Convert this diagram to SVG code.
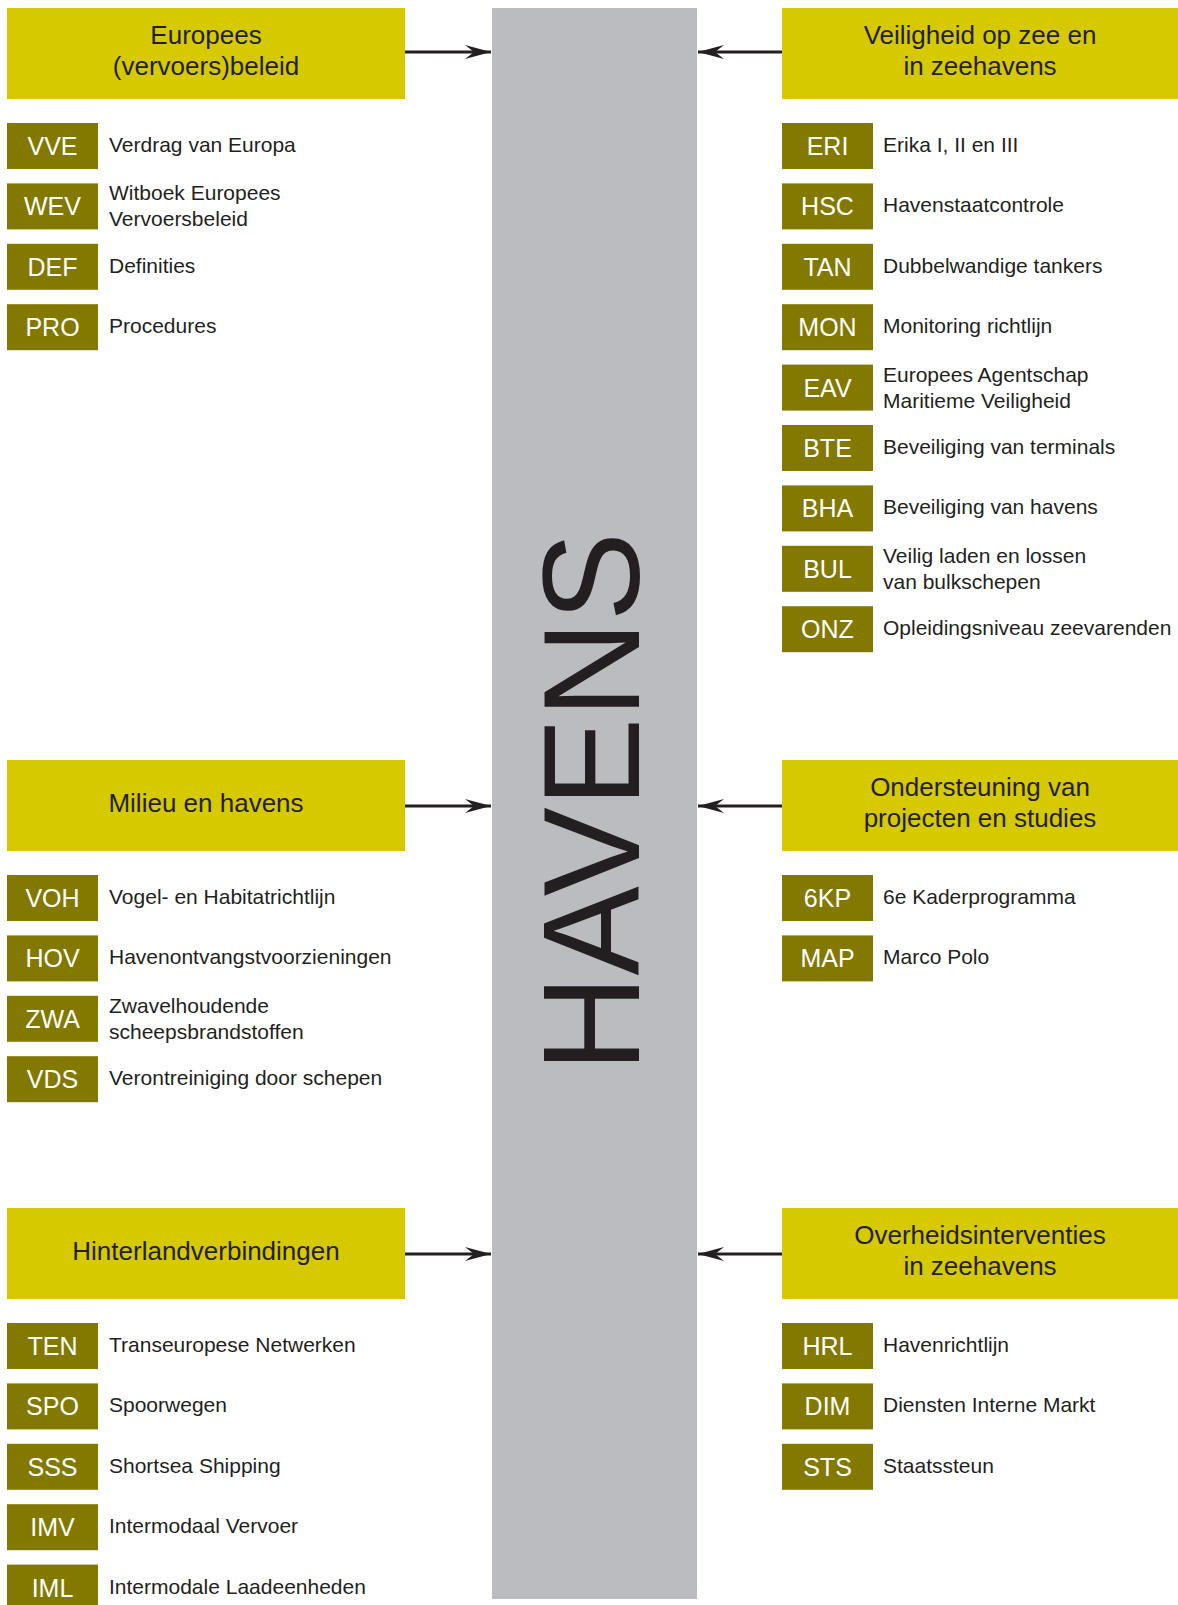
<svg xmlns="http://www.w3.org/2000/svg" width="1178" height="1605" viewBox="0 0 1178 1605">
<defs>
<style>
.hdr{fill:#d6c900}
.code{fill:#837900}
.ht{font-family:"Liberation Sans",Arial,sans-serif;font-size:26px;fill:#231f20;text-anchor:middle}
.ct{font-family:"Liberation Sans",Arial,sans-serif;font-size:25px;fill:#ffffff;text-anchor:middle}
.lt{font-family:"Liberation Sans",Arial,sans-serif;font-size:21px;fill:#231f20}
.conn{stroke:#231f20;stroke-width:2.8;fill:none}
</style>
<marker id="arr" markerUnits="userSpaceOnUse" markerWidth="27" markerHeight="15" refX="26" refY="7" orient="auto">
<path d="M0,0 L26,7 L0,14 L9,7 z" fill="#231f20"/>
</marker>
</defs>
<rect width="1178" height="1605" fill="#ffffff"/>
<g id="havens">
<rect x="492" y="8" width="205" height="1591" fill="#bbbcc0"/>
<text transform="translate(639,802) rotate(-90)" font-family="'Liberation Sans',Arial,sans-serif" font-size="138" fill="#231f20" text-anchor="middle" textLength="540" lengthAdjust="spacingAndGlyphs">HAVENS</text>
</g>
<g id="connectors">
<line class="conn" x1="405" y1="52" x2="491" y2="52" marker-end="url(#arr)"/>
<line class="conn" x1="782" y1="52" x2="698" y2="52" marker-end="url(#arr)"/>
<line class="conn" x1="405" y1="806" x2="491" y2="806" marker-end="url(#arr)"/>
<line class="conn" x1="782" y1="806" x2="698" y2="806" marker-end="url(#arr)"/>
<line class="conn" x1="405" y1="1254" x2="491" y2="1254" marker-end="url(#arr)"/>
<line class="conn" x1="782" y1="1254" x2="698" y2="1254" marker-end="url(#arr)"/>
</g>
<g id="hdr-europees">
<rect class="hdr" x="7" y="8" width="398" height="91"/>
<text class="ht" x="206" y="44">Europees</text>
<text class="ht" x="206" y="75">(vervoers)beleid</text>
</g>
<g id="hdr-veiligheid">
<rect class="hdr" x="782" y="8" width="396" height="91"/>
<text class="ht" x="980" y="44">Veiligheid op zee en</text>
<text class="ht" x="980" y="75">in zeehavens</text>
</g>
<g id="hdr-milieu">
<rect class="hdr" x="7" y="760" width="398" height="91"/>
<text class="ht" x="206" y="812">Milieu en havens</text>
</g>
<g id="hdr-ondersteuning">
<rect class="hdr" x="782" y="760" width="396" height="91"/>
<text class="ht" x="980" y="796">Ondersteuning van</text>
<text class="ht" x="980" y="827">projecten en studies</text>
</g>
<g id="hdr-hinterland">
<rect class="hdr" x="7" y="1208" width="398" height="91"/>
<text class="ht" x="206" y="1260">Hinterlandverbindingen</text>
</g>
<g id="hdr-overheid">
<rect class="hdr" x="782" y="1208" width="396" height="91"/>
<text class="ht" x="980" y="1244">Overheidsinterventies</text>
<text class="ht" x="980" y="1275">in zeehavens</text>
</g>

<g id="n-VVE"><rect class="code" x="7" y="123" width="91" height="46"/><text class="ct" x="52.5" y="155">VVE</text><text class="lt" x="109" y="152">Verdrag van Europa</text></g>
<g id="n-WEV"><rect class="code" x="7" y="183.4" width="91" height="46"/><text class="ct" x="52.5" y="215.4">WEV</text><text class="lt" x="109" y="200">Witboek Europees</text><text class="lt" x="109" y="226">Vervoersbeleid</text></g>
<g id="n-DEF"><rect class="code" x="7" y="243.8" width="91" height="46"/><text class="ct" x="52.5" y="275.8">DEF</text><text class="lt" x="109" y="272.8">Definities</text></g>
<g id="n-PRO"><rect class="code" x="7" y="304.2" width="91" height="46"/><text class="ct" x="52.5" y="336.2">PRO</text><text class="lt" x="109" y="333.2">Procedures</text></g>

<g id="n-ERI"><rect class="code" x="782" y="123" width="91" height="46"/><text class="ct" x="827.5" y="155">ERI</text><text class="lt" x="883" y="152">Erika I, II en III</text></g>
<g id="n-HSC"><rect class="code" x="782" y="183.4" width="91" height="46"/><text class="ct" x="827.5" y="215.4">HSC</text><text class="lt" x="883" y="212.4">Havenstaatcontrole</text></g>
<g id="n-TAN"><rect class="code" x="782" y="243.8" width="91" height="46"/><text class="ct" x="827.5" y="275.8">TAN</text><text class="lt" x="883" y="272.8">Dubbelwandige tankers</text></g>
<g id="n-MON"><rect class="code" x="782" y="304.2" width="91" height="46"/><text class="ct" x="827.5" y="336.2">MON</text><text class="lt" x="883" y="333.2">Monitoring richtlijn</text></g>
<g id="n-EAV"><rect class="code" x="782" y="364.6" width="91" height="46"/><text class="ct" x="827.5" y="396.6">EAV</text><text class="lt" x="883" y="381.6">Europees Agentschap</text><text class="lt" x="883" y="407.6">Maritieme Veiligheid</text></g>
<g id="n-BTE"><rect class="code" x="782" y="425" width="91" height="46"/><text class="ct" x="827.5" y="457">BTE</text><text class="lt" x="883" y="454">Beveiliging van terminals</text></g>
<g id="n-BHA"><rect class="code" x="782" y="485.4" width="91" height="46"/><text class="ct" x="827.5" y="517.4">BHA</text><text class="lt" x="883" y="514.4">Beveiliging van havens</text></g>
<g id="n-BUL"><rect class="code" x="782" y="545.8" width="91" height="46"/><text class="ct" x="827.5" y="577.8">BUL</text><text class="lt" x="883" y="562.8">Veilig laden en lossen</text><text class="lt" x="883" y="588.8">van bulkschepen</text></g>
<g id="n-ONZ"><rect class="code" x="782" y="606.2" width="91" height="46"/><text class="ct" x="827.5" y="638.2">ONZ</text><text class="lt" x="883" y="635.2">Opleidingsniveau zeevarenden</text></g>

<g id="n-VOH"><rect class="code" x="7" y="875" width="91" height="46"/><text class="ct" x="52.5" y="907">VOH</text><text class="lt" x="109" y="904">Vogel- en Habitatrichtlijn</text></g>
<g id="n-HOV"><rect class="code" x="7" y="935.4" width="91" height="46"/><text class="ct" x="52.5" y="967.4">HOV</text><text class="lt" x="109" y="964.4">Havenontvangstvoorzieningen</text></g>
<g id="n-ZWA"><rect class="code" x="7" y="995.8" width="91" height="46"/><text class="ct" x="52.5" y="1027.8">ZWA</text><text class="lt" x="109" y="1012.8">Zwavelhoudende</text><text class="lt" x="109" y="1038.8">scheepsbrandstoffen</text></g>
<g id="n-VDS"><rect class="code" x="7" y="1056.2" width="91" height="46"/><text class="ct" x="52.5" y="1088.2">VDS</text><text class="lt" x="109" y="1085.2">Verontreiniging door schepen</text></g>

<g id="n-6KP"><rect class="code" x="782" y="875" width="91" height="46"/><text class="ct" x="827.5" y="907">6KP</text><text class="lt" x="883" y="904">6e Kaderprogramma</text></g>
<g id="n-MAP"><rect class="code" x="782" y="935.4" width="91" height="46"/><text class="ct" x="827.5" y="967.4">MAP</text><text class="lt" x="883" y="964.4">Marco Polo</text></g>

<g id="n-TEN"><rect class="code" x="7" y="1323" width="91" height="46"/><text class="ct" x="52.5" y="1355">TEN</text><text class="lt" x="109" y="1352">Transeuropese Netwerken</text></g>
<g id="n-SPO"><rect class="code" x="7" y="1383.4" width="91" height="46"/><text class="ct" x="52.5" y="1415.4">SPO</text><text class="lt" x="109" y="1412.4">Spoorwegen</text></g>
<g id="n-SSS"><rect class="code" x="7" y="1443.8" width="91" height="46"/><text class="ct" x="52.5" y="1475.8">SSS</text><text class="lt" x="109" y="1472.8">Shortsea Shipping</text></g>
<g id="n-IMV"><rect class="code" x="7" y="1504.2" width="91" height="46"/><text class="ct" x="52.5" y="1536.2">IMV</text><text class="lt" x="109" y="1533.2">Intermodaal Vervoer</text></g>
<g id="n-IML"><rect class="code" x="7" y="1564.6" width="91" height="46"/><text class="ct" x="52.5" y="1596.6">IML</text><text class="lt" x="109" y="1593.6">Intermodale Laadeenheden</text></g>

<g id="n-HRL"><rect class="code" x="782" y="1323" width="91" height="46"/><text class="ct" x="827.5" y="1355">HRL</text><text class="lt" x="883" y="1352">Havenrichtlijn</text></g>
<g id="n-DIM"><rect class="code" x="782" y="1383.4" width="91" height="46"/><text class="ct" x="827.5" y="1415.4">DIM</text><text class="lt" x="883" y="1412.4">Diensten Interne Markt</text></g>
<g id="n-STS"><rect class="code" x="782" y="1443.8" width="91" height="46"/><text class="ct" x="827.5" y="1475.8">STS</text><text class="lt" x="883" y="1472.8">Staatssteun</text></g>
</svg>
